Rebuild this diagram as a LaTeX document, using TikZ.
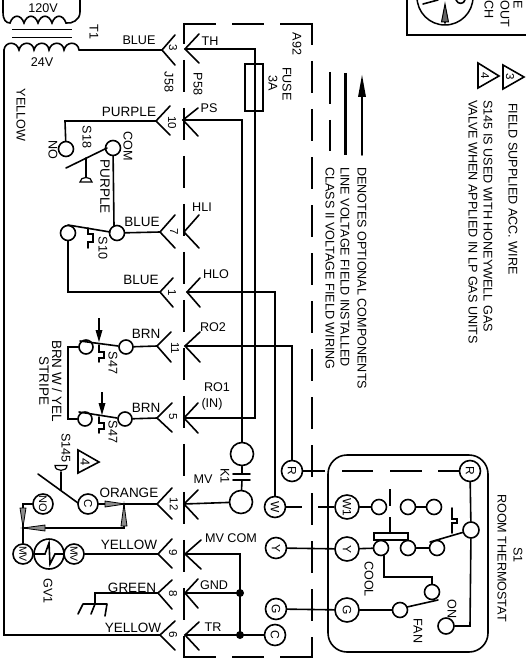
\documentclass[tikz,border=0pt]{standalone}
\usepackage{fontspec}
\setmainfont{Liberation Sans}
\usetikzlibrary{calc}
\newcommand{\chev}[6]{\coordinate (#1) at (#2,#3); \draw[wire] (#4,#5) -- (#1) -- (#4,#6);}
\tikzset{
 wire/.style={line width=1.6pt,line cap=round,line join=miter},
 thin wire/.style={line width=1.1pt},
 boxdash/.style={line width=2.4pt,dash pattern=on 32pt off 16pt},
 ct/.style={circle,draw,line width=1.6pt,inner sep=0pt,fill=white},
 tiny c/.style={ct,minimum size=15pt},
 med c/.style={ct,minimum size=21pt,font=\fontsize{12}{12}\selectfont,rotate=-90},
 big c/.style={ct,minimum size=24pt,font=\fontsize{12}{12}\selectfont,rotate=-90},
 lab/.style={inner sep=0pt,font=\fontsize{12.6}{12.6}\selectfont},
 wlab/.style={inner sep=0pt,font=\fontsize{13.5}{13.5}\selectfont},
 rlab/.style={lab,rotate=-90},
 rwlab/.style={wlab,rotate=-90},
 numlab/.style={inner sep=0pt,font=\fontsize{11.5}{11.5}\selectfont,rotate=-90},
 legend/.style={inner sep=0pt,font=\fontsize{12.6}{12.6}\selectfont,rotate=-90,anchor=west},
 grayhead/.style={fill=black!45,draw=black,line width=0.8pt,line join=miter},
 tri/.style={draw,line width=1.6pt,line join=miter},
}
\begin{document}
\begin{tikzpicture}[x=1pt,y=-1pt]
\useasboundingbox (0,0) rectangle (525,658);
% transformer
\draw[wire] (3,-2) -- (3,12) .. controls (3,20) and (6,23) .. (10,23)
  .. controls (13,14) and (21,14) .. (24,23) .. controls (27,14) and (35,14) .. (38,23)
  .. controls (41,14) and (49,14) .. (52,23) .. controls (55,14) and (63,14) .. (66,23)
  .. controls (72,24) and (80,20) .. (80,12) -- (80,-2);
\draw[line width=1.8pt] (12,29.5) -- (72,29.5) (12,37.5) -- (72,37.5);
\coordinate (secL) at (4,50);
\coordinate (secR) at (79,50);
\draw[wire] (secL) .. controls (5,41) and (17,41) .. (19,50) .. controls (21,41) and (33,41) .. (34,50)
  .. controls (36,41) and (48,41) .. (49,50) .. controls (51,41) and (63,41) .. (64,50)
  .. controls (66,41) and (78,41) .. (secR);
\node[lab] (t120) at (43,8) {120V};
\node[lab] (t24) at (42,62) {24V};
\node[rlab] (tT1) at (94,32) {T1};
\node[rlab] (tyel) at (21,115) {YELLOW};
% A92 dashed box
\draw[boxdash,line cap=butt] (184,24) -- (312,24);
\draw[line width=2.4pt] (312,22.8) -- (312,25);
\draw[boxdash,dash phase=11pt] (184,22.8) -- (184,658) ;
\draw[boxdash,dash phase=11pt] (312,24) -- (312,658);
\draw[boxdash] (184,657) -- (312,657);
% chevrons
\chev{L3}{162}{50}{175}{35}{65}  \chev{R3}{185}{49}{199}{34}{63}
\chev{L10}{156}{121}{170}{106}{135} \chev{R10}{183}{120}{198}{108}{136}
\chev{L7}{160}{232}{175}{215}{248} \chev{R7}{184}{232}{199}{215}{248}
\chev{L1}{160}{292}{173}{278}{307} \chev{R1}{187}{292}{200}{278}{307}
\chev{L11}{157}{346}{171}{332}{362} \chev{R11}{185}{346}{200}{332}{362}
\chev{L5}{157}{418}{172}{403}{432} \chev{R5}{184}{418}{198}{403}{433}
\chev{L12}{157}{504}{172}{488}{519} \chev{R12}{184}{504}{198}{490}{519}
\chev{L9}{158}{554}{172}{539}{568} \chev{R9}{185}{554}{201}{540}{569}
\chev{L8}{158}{593}{172}{580}{609} \chev{R8}{185}{593}{198}{579}{608}
\chev{L6}{160}{635}{175}{621}{650} \chev{R6}{185}{635}{199}{622}{650}
\foreach \n/\x/\y in {3/173/48,10/172/123,7/174/232,1/172/293,11/175/348,5/173/417,12/174/504,9/173/553,8/173/594,6/173/635}
  \node[numlab] (num\n) at (\x,\y) {\n};
% labels along harness
\node[lab] (lBlue3) at (139,40) {BLUE};
\node[lab] (lTH) at (210,41) {TH};
\node[wlab] (lPur) at (129,112) {PURPLE};
\node[lab] (lPS) at (209,108) {PS};
\node[rlab] (lJ58) at (169,82) {J58};
\node[rlab] (lP58) at (198,84) {P58};
\node[lab] (lHLI) at (202,207) {HLI};
\node[wlab] (lBlue7) at (142,222) {BLUE};
\node[wlab] (lBlue1) at (141,280) {BLUE};
\node[lab] (lHLO) at (216,274) {HLO};
\node[wlab] (lBrn11) at (146,334) {BRN};
\node[lab] (lRO2) at (213,327) {RO2};
\node[wlab] (lBrn5) at (146,408) {BRN};
\node[lab] (lRO1) at (217,387) {RO1};
\node[lab] (lIN) at (212,404) {(IN)};
\node[wlab] (lOr) at (129,493) {ORANGE};
\node[lab] (lMV) at (203,479) {MV};
\node[wlab] (lYel9) at (129,545) {YELLOW};
\node[lab] (lMVC) at (231,538) {MV COM};
\node[wlab] (lGrn) at (132,588) {GREEN};
\node[lab] (lGND) at (214,585) {GND};
\node[wlab] (lYel6) at (133,628) {YELLOW};
\node[lab] (lTR) at (213,627) {TR};
\node[rlab] (lFuse) at (287,84) {FUSE};
\node[rlab] (l3A) at (273,83) {3A};
\node[rlab] (lA92) at (297,44) {A92};
\node[rlab] (lK1) at (225,476) {K1};
% main wires
\draw[wire] (secR) -- (L3);
\draw[wire] (secL) -- (4,635) -- (L6);
% fuse
\coordinate (fuseT) at (255,49);
\coordinate (fuseB) at (255,418);
\draw[wire] (R3) -- (fuseT) -- (fuseB) -- (R5);
\node[draw,line width=1.5pt,minimum width=18pt,minimum height=47pt,inner sep=0pt] (fuse) at (254,87.5) {};
% K1
\node[ct,minimum size=23pt] (k1a) at (242,454) {};
\node[ct,minimum size=23pt] (k1b) at (241,502) {};
\coordinate (capA) at (242,474);
\coordinate (capB) at (242,480);
\coordinate (psC) at (242,120);
\draw[wire] (R10) -- (psC) -- (k1a);
\draw[wire] (k1a) -- (capA) (capB) -- (k1b);
\draw[wire] (233,474) -- (250,474) (233,480) -- (250,480);
\draw[wire] (R12) -- (k1b);
% thermostat side nodes
\node[med c] (R) at (292,471) {R};
\node[med c] (W) at (275,507) {W};
\node[med c] (Y) at (276,548) {Y};
\node[med c] (G) at (276,609) {G};
\node[med c] (C) at (275,635) {C};
\draw[wire] (R11) -| (R);
\draw[wire] (R1) -| (W);
\draw[wire] (R6) -- (C);
\coordinate (mvcC) at (240,554);
\coordinate (dot8) at (240,593);
\coordinate (dot6) at (240,635);
\draw[wire] (R9) -- (mvcC) -- (dot6);
\draw[wire] (R8) -- (dot8);
\fill (dot8) circle (4pt) (dot6) circle (4pt);
% S1 box
\draw[line width=1.6pt,rounded corners=19pt] (328,455) rectangle (488,652);
\node[med c] (R2) at (470,471) {R};
\node[big c] (W1) at (347,507) {W1};
\node[big c] (Y2) at (347,549) {Y};
\node[big c] (G2) at (347,610) {G};
\coordinate (rd1) at (325,471);
\coordinate (rd2) at (342,471);
\coordinate (rd3) at (373,471);
\coordinate (rd4) at (390,471);
\coordinate (rd5) at (422,471);
\coordinate (rd6) at (438,471);
\draw[wire,line cap=butt] (R) -- (rd1) (rd2) -- (rd3) (rd4) -- (rd5) (rd6) -- (R2);
\coordinate (wd1) at (302,507);
\coordinate (wd2) at (318,507);
\draw[wire,line cap=butt] (W) -- (wd1) (wd2) -- (W1);
\draw[wire] (Y) -- (Y2);
\draw[wire] (G) -- (G2);
\node[tiny c] (a1) at (379,507) {};
\node[tiny c] (a2) at (408,507) {};
\node[tiny c] (a3) at (434,507) {};
\draw[wire] (W1) -- (a1) (a2) -- (a3);
\draw[thin wire] (390,489) -- (390,506) (390,517) -- (390,533);
\node[tiny c] (b1) at (381,548) {};
\node[tiny c] (b2) at (408,548) {};
\node[tiny c] (b3) at (437,548) {};
\draw[wire] (Y2) -- (b1) (b2) -- (b3);
\node[draw,fill=white,line width=1.5pt,minimum width=34pt,minimum height=7pt,inner sep=0pt] (slider) at (391,536.5) {};
\node[ct,minimum size=16pt] (rsw) at (471,530) {};
\draw[wire] (430,542) -- (rsw);
\draw[wire] (452,508) -- (452,519) -- (457,519) -- (457,523) -- (452,523) -- (452,533);
\node[ct,minimum size=16pt] (on) at (446,626) {};
\coordinate (rjog) at (470,626);
\draw[wire] (R2) -- (rsw) -- (rjog) -- (on);
\node[tiny c] (f1) at (432,592) {};
\node[tiny c] (f2) at (400,610) {};
\draw[wire] (G2) -- (f2);
\draw[wire] (438,600) -- (407,607);
\coordinate (cool1) at (384,577);
\coordinate (cool2) at (432,577);
\draw[wire] (384,555.5) -- (cool1) -- (cool2) -- (f1);
\node[rlab] (lCool) at (369,579) {COOL};
\node[rlab] (lFan) at (418,631) {FAN};
\node[rlab] (lOn) at (452,609) {ON};
\node[rlab] (lRT) at (502,558) {ROOM THERMOSTAT};
\node[rlab] (lS1) at (518,555) {S1};
% S18
\node[tiny c] (no18) at (66,149) {};
\node[tiny c] (com18) at (113,148) {};
\coordinate (p18) at (65,121);
\draw[wire] (L10) -- (p18) -- (no18);
\draw[wire] (66,168) -- (107,148);
\draw[wire] (86,158) -- (86,177);
\draw[line width=1.2pt,fill=white] (80,182) .. controls (80,176) and (92,176) .. (92,182) -- cycle;
\node[rlab] (lS18) at (87,137) {S18};
\node[rlab] (lNO18) at (53,150) {NO};
\node[rlab] (lCom) at (128,146) {COM};
\node[rwlab] (lPur2) at (105,187) {PURPLE};
% S10
\node[tiny c] (s10a) at (68,233) {};
\node[tiny c] (s10b) at (117,233) {};
\draw[wire] (com18) -- (114,226);
\draw[wire] (L7) -- (s10b);
\draw[wire] (68,225) -- (110,232);
\draw[wire] (88,228) -- (88,234) -- (93,234) -- (93,242) -- (88,242) -- (88,248);
\coordinate (s10c) at (68,292);
\draw[wire] (s10a) -- (s10c) -- (L1);
\node[rlab] (lS10) at (103,248) {S10};
% S47
\node[ct,minimum size=14pt] (s47a) at (86,347) {};
\node[ct,minimum size=14pt] (s47b) at (126,347) {};
\node[ct,minimum size=14pt] (s47c) at (85,419) {};
\node[ct,minimum size=14pt] (s47d) at (125,419) {};
\draw[wire] (L11) -- (s47b);
\draw[wire] (L5) -- (s47d);
\coordinate (j1) at (68,347);
\coordinate (j2) at (68,419);
\draw[wire] (s47a) -- (j1) -- (j2) -- (s47c);
\draw[wire] (80,341) -- (118,346);
\draw[wire] (79,412) -- (117,418);
\draw[thin wire] (99,318) -- (99,332);
\fill (95.5,330) -- (102.5,330) -- (99,342) -- cycle;
\draw[thin wire] (102,392) -- (102,405);
\fill (98.5,403) -- (105.5,403) -- (102,415) -- cycle;
\draw[wire] (99,345) -- (99,352) -- (104,352) -- (104,358) -- (99,358) -- (99,362);
\draw[wire] (99,417) -- (99,423) -- (104,423) -- (104,429) -- (99,429) -- (99,433);
\node[rlab] (lS47a) at (113,363) {S47};
\node[rlab] (lS47b) at (113,432) {S47};
\node[rwlab] (lBW) at (57,381) {BRN W / YEL};
\node[rwlab] (lST) at (44,381) {STRIPE};
% S145
\node[rlab] (lS145) at (66,448) {S145};
\draw[tri] (78,450) -- (78,473) -- (99,462) -- cycle;
\node[numlab,font=\fontsize{13}{13}\selectfont] (t4a) at (85,462) {4};
\draw[wire] (61,472) -- (61,490);
\draw[line width=1.2pt,fill=white] (55,465.5) -- (67,465.5) .. controls (67,472) and (55,472) .. (55,465.5) -- cycle;
\draw[wire] (38,474) -- (78,503);
\node[ct,minimum size=20pt,font=\fontsize{11.5}{11.5}\selectfont,rotate=-90] (cC) at (88,504) {C};
\node[ct,minimum size=20pt,font=\fontsize{11}{11}\selectfont,rotate=-90] (cNO) at (43,504) {NO};
\draw[wire] (L12) -- (cC);
\coordinate (aw1) at (124,504);
\coordinate (aw2) at (124,528);
\coordinate (aw3) at (23,528);
\coordinate (aw4) at (23,504);
\draw[wire] (aw1) -- (aw2) -- (aw3);
% gas valve
\node[ct,minimum size=20pt,font=\fontsize{10.5}{10.5}\selectfont,rotate=-90] (mvL) at (23,554) {MV};
\node[ct,minimum size=20pt,font=\fontsize{10.5}{10.5}\selectfont,rotate=-90] (mvR) at (74,554) {MV};
\node[ct,minimum size=30pt] (gv) at (49,554) {};
\draw[wire] (cNO) -- (aw4) -- (mvL);
\draw[wire] (mvR) -- (L9);
\draw[wire] (35,554) -- (45,554) -- (49,543) -- (50,564) -- (55,554) -- (63,554);
\node[rlab] (lGV) at (48,591) {GV1};
\draw[grayhead] (105,501) -- (105,507) -- (125,504) -- cycle;
\draw[grayhead] (121,526) -- (127,526) -- (124,504) -- cycle;
\draw[grayhead] (45,525) -- (45,531) -- (23,528) -- cycle;
\draw[grayhead] (20,508) -- (26,508) -- (23,527) -- cycle;
% ground
\coordinate (gnd) at (95,593);
\coordinate (gnd2) at (95,604);
\draw[wire] (L8) -- (gnd) -- (gnd2);
\draw[wire] (83,604) -- (107,604) (83,604) -- (78,614) (95,604) -- (91,614) (107,604) -- (105,616);
% legend
\draw[wire] (362,155) -- (362,90);
\fill (358,97) -- (366,97) -- (362,75) -- cycle;
\draw[line width=3pt] (345,73) -- (345,155);
\draw[line width=1.5pt] (330,72) -- (330,104) (330,120) -- (330,151);
\node[legend] (leg1) at (362,167) {DENOTES OPTIONAL COMPONENTS};
\node[legend] (leg2) at (345,167) {LINE VOLTAGE FIELD INSTALLED};
\node[legend] (leg3) at (330,167) {CLASS II VOLTAGE FIELD WIRING};
\draw[tri] (503,65) -- (503,89) -- (524,77) -- cycle;
\node[numlab] (t3) at (510,77) {3};
\draw[tri] (478,63) -- (478,88) -- (499,76) -- cycle;
\node[numlab] (t4) at (485,76) {4};
\node[legend] (n3) at (513,103) {FIELD SUPPLIED ACC. WIRE};
\node[legend] (n4a) at (488,100) {S145 IS USED WITH HONEYWELL GAS};
\node[legend] (n4b) at (473,100) {VALVE WHEN APPLIED IN LP GAS UNITS};
% top right switch
\draw[line width=1.6pt] (407,0) -- (407,35) -- (526,35);
\draw[line width=1.5pt] (445,-3) circle (28pt);
\draw[wire] (445,23) -- (445,10);
\draw[line width=1pt,fill=black!60] (441.5,22) -- (448.5,22) -- (445,4) -- cycle;
\draw[wire] (423,4) -- (438,0);
\draw[wire] (456,0) .. controls (458,5) and (464,4) .. (465,0);
\node[legend] (tE) at (518,0) {E};
\node[legend] (tOUT) at (505,0) {OUT};
\node[legend] (tCH) at (489,0) {CH};
\end{tikzpicture}
\end{document}
